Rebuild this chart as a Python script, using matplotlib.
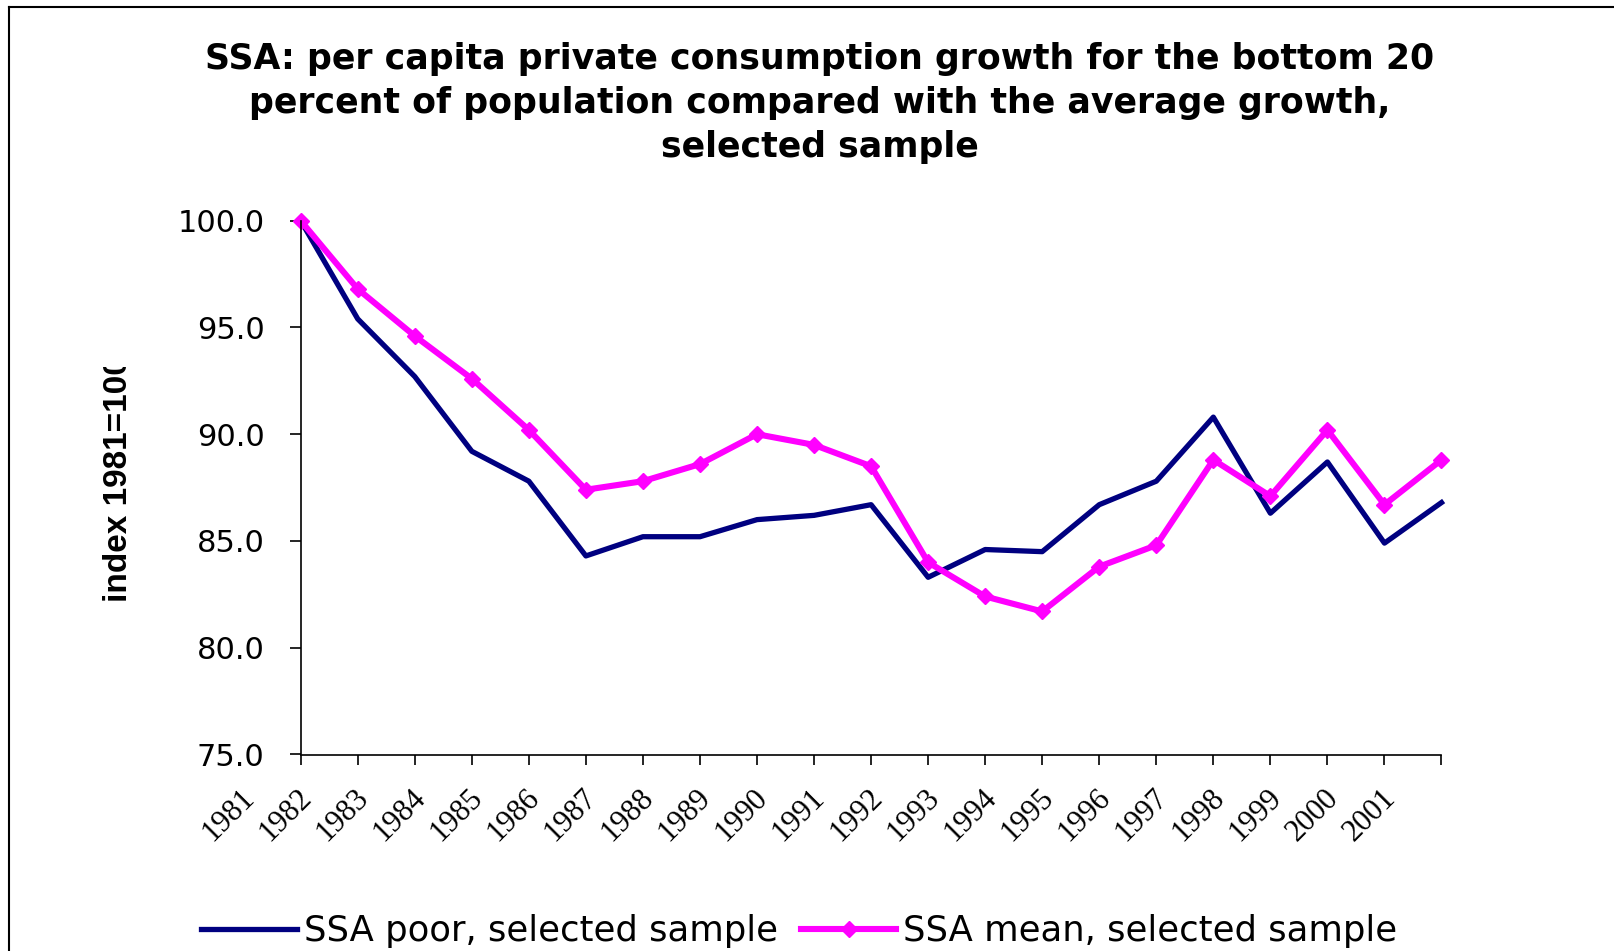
"""SSA consumption growth: bottom 20 percent vs average, index 1981=100."""

import matplotlib
matplotlib.use("Agg")
import matplotlib.pyplot as plt
import matplotlib.transforms as mtransforms
from matplotlib.lines import Line2D
from matplotlib.ticker import FormatStrFormatter
import numpy as np

years = list(range(1981, 2002))
year_labels = [str(y) for y in years]

ssa_poor = [100.0, 95.4, 92.7, 89.2, 87.8, 84.3, 85.2, 85.2, 86.0, 86.2, 86.7,
            83.3, 84.6, 84.5, 86.7, 87.8, 90.8, 86.3, 88.7, 84.9, 86.8]
ssa_mean = [100.0, 96.8, 94.6, 92.6, 90.2, 87.4, 87.8, 88.6, 90.0, 89.5, 88.5,
            84.0, 82.4, 81.7, 83.8, 84.8, 88.8, 87.1, 90.2, 86.7, 88.8]

series_names = ["SSA poor, selected sample", "SSA mean, selected sample"]
title = ("SSA: per capita private consumption growth for the bottom 20\n"
         "percent of population compared with the average growth,\n"
         "selected sample")
y_label = "index 1981=100"

W, H = 1614, 951
fig = plt.figure(figsize=(W / 100, H / 100), dpi=100)
ax = fig.add_axes([300.7 / W, 1 - 754.5 / H, (1441.5 - 300.7) / W, (754.5 - 220.7) / H])

ax.plot(years, ssa_poor, color="#000080", lw=3.8, clip_on=False, label=series_names[0])
ax.plot(years, ssa_mean, color="#FF00FF", lw=4.4, marker="D", ms=8,
        clip_on=False, label=series_names[1])

ax.set_xlim(years[0], years[-1])
ax.set_ylim(75, 100)
ax.set_yticks(np.arange(75, 100.1, 5))
ax.yaxis.set_major_formatter(FormatStrFormatter("%.1f"))

for side in ("top", "right"):
    ax.spines[side].set_visible(False)
for side in ("left", "bottom"):
    ax.spines[side].set_linewidth(1.2)

ax.tick_params(axis="y", length=8, width=1.2, pad=18, labelsize=22)
ax.tick_params(axis="x", length=7, width=1.2, pad=14, labelsize=22)

ax.set_xticks(years)
ax.set_xticklabels(year_labels)
for lbl in ax.get_xticklabels():
    lbl.set_family("Liberation Serif")
    lbl.set_fontsize(22)
    lbl.set_rotation(45)
    lbl.set_ha("center")
    lbl.set_va("top")

# Excel places the rotated year labels to the left of their ticks
shift = mtransforms.ScaledTranslation(-72 / 100, 0, fig.dpi_scale_trans)
for lbl in ax.get_xticklabels():
    lbl.set_transform(lbl.get_transform() + shift)

fig.text(0.508, 1 - 42 / H, title, ha="center", va="top", fontsize=25,
         fontweight="bold", linespacing=1.37, family="DejaVu Sans")

# y label is cut off at the top in the original
ylab = fig.text(127 / W, 1 - 602 / H, y_label, rotation=90, rotation_mode="anchor",
                ha="left", va="baseline", fontsize=24, fontweight="bold",
                family="Liberation Sans")
ylab.set_clip_box(mtransforms.TransformedBbox(
    mtransforms.Bbox([[0, 0], [1, 1 - 367 / H]]), fig.transFigure))
ylab.set_clip_on(True)

fig.legend(loc="center left", bbox_to_anchor=(201 / W, 1 - 931 / H), ncol=2,
           frameon=False, fontsize=25.5, handlelength=2.7, handletextpad=0.2,
           columnspacing=0.65, borderpad=0, borderaxespad=0)

# chart area border (top and left edges visible)
fig.add_artist(Line2D([9 / W, 1], [1 - 7 / H, 1 - 7 / H], color="black", lw=1.5,
                      transform=fig.transFigure))
fig.add_artist(Line2D([9 / W, 9 / W], [0, 1 - 7 / H], color="black", lw=1.5,
                      transform=fig.transFigure))

fig.savefig("out.png", dpi=100)
plt.close(fig)
